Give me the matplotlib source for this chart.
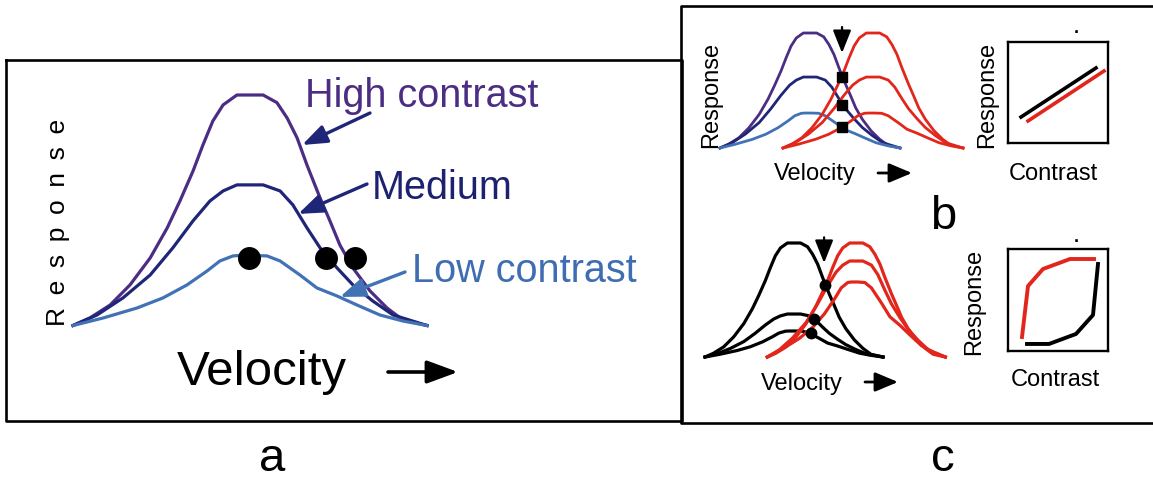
import matplotlib
matplotlib.use("Agg")
import matplotlib.pyplot as plt
from matplotlib.lines import Line2D
from matplotlib.patches import FancyArrowPatch

plt.rcParams['font.family'] = ['Liberation Sans', 'DejaVu Sans']

W, H = 1153, 482

# ---- data: normalized tuning-curve shapes (velocity 0..1, response / peak) ----
vel_high = [0, .048, .105, .161, .218, .266, .302, .339, .367, .395, .424, .463,
            .537, .576, .605, .633, .661, .698, .726, .754, .791, .839, .887, .932, 1]
resp_high = [0, .033, .089, .176, .293, .423, .540, .670, .783, .887, .957, 1,
             1, .967, .900, .814, .696, .553, .453, .349, .249, .150, .076, .024, 0]
vel_med = [0, .068, .141, .218, .282, .339, .387, .424, .463, .537, .585, .621,
           .661, .698, .746, .791, .847, .904, 1]
resp_med = [0, .075, .196, .359, .552, .744, .886, .957, 1, 1, .957, .858,
            .694, .552, .409, .288, .174, .075, 0]
vel_low = [0, .085, .181, .254, .322, .379, .415, .452, .472, .508, .548, .585,
           .641, .689, .746, .802, .867, .932, 1]
resp_low = [0, .107, .25, .393, .579, .779, .921, .993, 1, 1, .993, .921,
            .721, .536, .421, .293, .15, .064, 0]

# panel a
labels_a = ['High contrast', 'Medium', 'Low contrast']
gain_a = [1.0, 0.61, 0.304]
colors_a = ['#4b2d84', '#1f2678', '#4272b6']
dots_a_vel = [0.497, 0.715, 0.797]
dots_a_resp = [0.293, 0.293, 0.293]

# panel b
pref_b = [0.0, 0.35]          # preferred velocity offsets (blue, red)
gain_b = [1.0, 0.617, 0.304]
dots_b_vel = [0.678, 0.678, 0.678]
dots_b_resp = [0.617, 0.374, 0.183]
crf_b_black_x = [0.13, 0.88]
crf_b_black_y = [0.257, 0.743]
crf_b_red_x = [0.20, 0.96]
crf_b_red_y = [0.218, 0.713]

# panel c
pref_c = [0.0, 0.35]
gain_c_black = [1.0, 0.377, 0.228]
gain_c_red = [1.0, 0.842, 0.658]
dots_c_vel = [0.674, 0.612, 0.596]
dots_c_resp = [0.632, 0.333, 0.211]
crf_c_red_x = [0.14, 0.20, 0.35, 0.62, 0.86]
crf_c_red_y = [0.137, 0.637, 0.804, 0.902, 0.902]
crf_c_black_x = [0.19, 0.41, 0.68, 0.85, 0.90]
crf_c_black_y = [0.069, 0.069, 0.167, 0.353, 0.853]

RED = '#e2261c'
shapes = [(vel_high, resp_high), (vel_med, resp_med), (vel_low, resp_low)]

fig = plt.figure(figsize=(W / 100, H / 100), dpi=100)


def fr(x, y):
    return x / W, 1 - y / H


def px_axes(x0, y0, x1, y1):
    l, b = fr(x0, y1)
    return fig.add_axes([l, b, (x1 - x0) / W, (y1 - y0) / H])


def fline(xs, ys, lw=1.8, color='black'):
    fig.add_artist(Line2D([x / W for x in xs], [1 - y / H for y in ys],
                          transform=fig.transFigure, lw=lw, color=color,
                          solid_capstyle='projecting'))


def ftext(x, y, s, **kw):
    fig.text(x / W, 1 - y / H, s, **kw)


def farrow(x0, y0, x1, y1, lw=2, hl=0.8, hw=0.3, ms=20, color='black'):
    fig.add_artist(FancyArrowPatch(
        fr(x0, y0), fr(x1, y1), transform=fig.transFigure,
        arrowstyle=f'-|>,head_length={hl},head_width={hw}',
        mutation_scale=ms, lw=lw, color=color, shrinkA=0, shrinkB=0))


# ---- panel borders ----
fline([6, 682, 682, 6, 6], [60, 60, 421, 421, 60], lw=1.9)
fline([1153, 681, 681, 1153], [6, 6, 423, 423], lw=1.9)

# ---- panel a ----
axa = px_axes(73, 95, 427, 325.5)
axa.set_xlim(0, 1)
axa.set_ylim(0, 1)
axa.axis('off')
for (vx, vy), g, c in zip(shapes, gain_a, colors_a):
    axa.plot(vx, [g * v for v in vy], color=c, lw=2.3, clip_on=False,
             solid_joinstyle='round')
axa.plot(dots_a_vel, dots_a_resp, 'o', color='black', ms=15.5, clip_on=False)

arrow_tails_a = [(370, 113), (367, 184), (405, 272)]
arrow_tips_a = [(0.647, 0.783), (0.636, 0.484), (0.754, 0.124)]
arrow_cols_a = ['#1f2678', '#1f2678', '#4272b6']
for (tx, ty), tip, c in zip(arrow_tails_a, arrow_tips_a, arrow_cols_a):
    axa.annotate('', xy=tip, xycoords='data', xytext=(tx, H - ty),
                 textcoords='figure pixels',
                 arrowprops=dict(arrowstyle='-|>,head_length=0.75,head_width=0.28',
                                 mutation_scale=20, lw=2.4, color=c,
                                 shrinkA=0, shrinkB=0))

label_pos_a = [(305, 107), (372, 199), (412, 282)]
label_cols_a = ['#4b2d84', '#1c2170', '#3e6db2']
for (x, y), s, c in zip(label_pos_a, labels_a, label_cols_a):
    ftext(x, y, s, fontsize=28.5, color=c, ha='left', va='baseline')

ftext(65, 222, ' \u2009'.join('Response'), fontsize=19, rotation=90,
      rotation_mode='anchor', ha='center', va='baseline')
ftext(262, 385, 'Velocity', fontsize=35.5, ha='center', va='baseline')
farrow(388, 372, 458, 372, lw=2.6, hl=0.95, hw=0.35, ms=20)
ftext(272, 471, 'a', fontsize=34, ha='center', va='baseline')

# ---- panel b: velocity tuning ----
axb = px_axes(720, 33, 963, 148)
axb.set_xlim(0, 243 / 180)
axb.set_ylim(0, 1)
axb.axis('off')
for (vx, vy), g, c in zip(shapes, gain_b, colors_a):
    axb.plot([v + pref_b[0] for v in vx], [g * v for v in vy], color=c, lw=2.0,
             clip_on=False)
for (vx, vy), g in zip(shapes, gain_b):
    axb.plot([v + pref_b[1] for v in vx], [g * v for v in vy], color=RED, lw=2.0,
             clip_on=False)
axb.plot(dots_b_vel, dots_b_resp, 's', color='black', ms=6.5, clip_on=False)
axb.annotate('', xy=(0.678, 0.826), xytext=(0.678, 1.052),
             arrowprops=dict(arrowstyle='-|>,head_length=1.0,head_width=0.4',
                             mutation_scale=14, lw=1.6, color='black',
                             shrinkA=0, shrinkB=0))
ftext(717, 95, 'Response', fontsize=17, rotation=90, rotation_mode='anchor',
      ha='center', va='baseline')
ftext(815, 180, 'Velocity', fontsize=17, ha='center', va='baseline')
farrow(878, 173, 912, 173, lw=2, hl=1.0, hw=0.42, ms=14)

# panel b: contrast response
axbc = px_axes(1008, 42, 1108, 143)
axbc.set_xlim(0, 1)
axbc.set_ylim(0, 1)
axbc.set_xticks([])
axbc.set_yticks([])
for s in axbc.spines.values():
    s.set_linewidth(1.7)
axbc.plot(crf_b_black_x, crf_b_black_y, color='black', lw=2.6)
axbc.plot(crf_b_red_x, crf_b_red_y, color=RED, lw=2.6)
axbc.text(0.68, 1.09, '.', transform=axbc.transAxes, ha='center', va='baseline',
          fontsize=13, fontweight='bold')
ftext(993, 95, 'Response', fontsize=17, rotation=90, rotation_mode='anchor',
      ha='center', va='baseline')
ftext(1053, 180, 'Contrast', fontsize=17, ha='center', va='baseline')
ftext(943, 229, 'b', fontsize=34, ha='center', va='baseline')

# ---- panel c: velocity tuning ----
axc = px_axes(705, 243, 947, 357)
axc.set_xlim(0, 242 / 178)
axc.set_ylim(0, 1)
axc.axis('off')
for (vx, vy), g in zip(shapes, gain_c_black):
    axc.plot([v + pref_c[0] for v in vx], [g * v for v in vy], color='black',
             lw=2.3, clip_on=False)
for (vx, vy), g in zip(shapes, gain_c_red):
    axc.plot([v + pref_c[1] for v in vx], [g * v for v in vy], color=RED,
             lw=2.3, clip_on=False)
axc.plot(dots_c_vel, dots_c_resp, 'o', color='black', ms=7.5, clip_on=False)
axc.annotate('', xy=(0.669, 0.825), xytext=(0.669, 1.05),
             arrowprops=dict(arrowstyle='-|>,head_length=1.0,head_width=0.4',
                             mutation_scale=14, lw=1.6, color='black',
                             shrinkA=0, shrinkB=0))
ftext(980, 302, 'Response', fontsize=17, rotation=90, rotation_mode='anchor',
      ha='center', va='baseline')
ftext(802, 390, 'Velocity', fontsize=17, ha='center', va='baseline')
farrow(865, 382, 898, 382, lw=2, hl=1.0, hw=0.42, ms=14)

# panel c: contrast response
axcc = px_axes(1008, 249, 1108, 351)
axcc.set_xlim(0, 1)
axcc.set_ylim(0, 1)
axcc.set_xticks([])
axcc.set_yticks([])
for s in axcc.spines.values():
    s.set_linewidth(1.7)
axcc.plot(crf_c_red_x, crf_c_red_y, color=RED, lw=2.8)
axcc.plot(crf_c_black_x, crf_c_black_y, color='black', lw=2.8)
axcc.text(0.68, 1.07, '.', transform=axcc.transAxes, ha='center', va='baseline',
          fontsize=13, fontweight='bold')
ftext(1055, 386, 'Contrast', fontsize=17, ha='center', va='baseline')
ftext(943, 471, 'c', fontsize=34, ha='center', va='baseline')

fig.savefig('out.png', dpi=100)
